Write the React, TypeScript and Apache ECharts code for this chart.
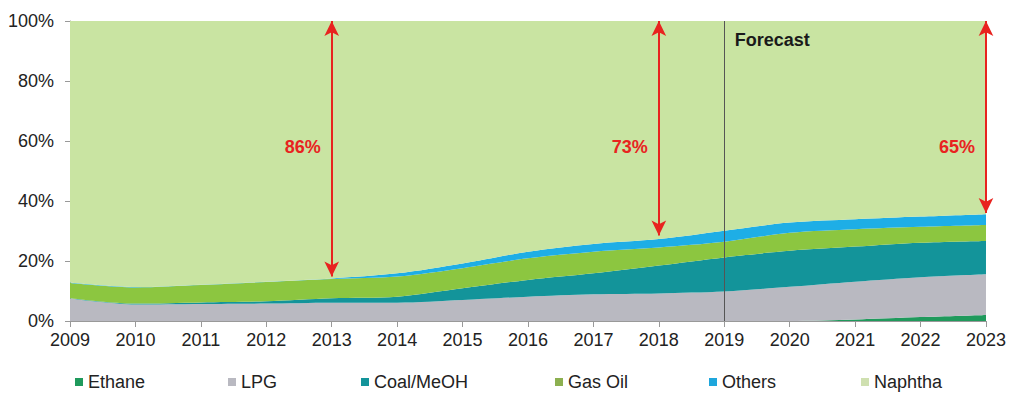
import React, { useEffect, useRef } from "react";
import * as echarts from "echarts";

const years = ["2009","2010","2011","2012","2013","2014","2015","2016","2017","2018","2019","2020","2021","2022","2023"];
const ethane = [0,0,0,0,0,0,0,0,0,0,0,0,0.5,1.3,2];
const lpg = [7.5,5.5,5.7,5.8,6.1,6.1,7,8.1,8.9,9.2,9.8,11.4,12.6,13.3,13.6];
const coal = [0.1,0.3,0.5,0.8,1.5,2,3.9,5.6,7,9.3,11.4,12,11.7,11.5,11.1];
const gasOil = [5.1,5.4,5.8,6.4,6.4,6.7,6.7,7.2,7.2,6,5.2,6,5.8,5.3,5.3];
const others = [0.1,0.1,0.1,0.1,0.2,1.1,1.6,2.2,2.6,2.8,3.7,3.4,3.3,3.4,3.6];
const naphtha = [87.2,88.7,87.9,86.9,85.8,84.1,80.8,76.9,74.3,72.7,69.9,67.2,66.1,65.2,64.4];

const yTicks = ["0%","20%","40%","60%","80%","100%"];
const arrowYears = ["2013","2018","2023"];
const arrowEnds = [14.8, 28.5, 36];
const arrowLabels = ["86%","73%","65%"];
const forecastYear = "2019";

const seriesNames = ["Ethane","LPG","Coal/MeOH","Gas Oil","Others","Naphtha"];
const seriesData = [ethane, lpg, coal, gasOil, others, naphtha];
const colors = ["#1f9a5c","#b9b9c1","#13949a","#8cc640","#1eaee6","#c9e4a2"];
const legendColors = ["#1f9a5c","#b9b9c1","#13949a","#8cb050","#1ea6dc","#cfe0b0"];
const legendLefts = [75, 228, 361, 555, 709, 861];

const FONT = "'Liberation Sans', Arial, sans-serif";

export default function App() {
  const ref = useRef<HTMLDivElement>(null);
  useEffect(() => {
    if (!ref.current) return;
    const chart = echarts.init(ref.current, null, { renderer: "svg" });
    const stacked = seriesNames.map((name, i) => ({
      name,
      type: "line",
      stack: "total",
      data: seriesData[i],
      symbol: "none",
      smooth: 0.3,
      lineStyle: { width: 0 },
      areaStyle: { color: colors[i], opacity: 1 },
      itemStyle: { color: legendColors[i] },
      z: 2,
    }));
    const redLine = { color: "#e8231f", width: 2, type: "solid" };
    chart.setOption({
      animation: false,
      textStyle: { fontFamily: FONT },
      grid: { left: 70, right: 23, top: 21, bottom: 73, containLabel: false },
      xAxis: {
        type: "category",
        data: years,
        boundaryGap: false,
        axisLine: { lineStyle: { color: "#999", width: 1 } },
        axisTick: { show: true, length: 6, lineStyle: { color: "#999" }, alignWithLabel: true },
        axisLabel: { color: "#222", fontSize: 18, margin: 10, fontFamily: FONT },
      },
      yAxis: {
        type: "value",
        min: 0,
        max: 100,
        interval: 20,
        axisLine: { show: true, lineStyle: { color: "#999" } },
        axisTick: { show: true, length: 5, lineStyle: { color: "#999" } },
        splitLine: { show: false },
        axisLabel: {
          color: "#222",
          fontSize: 18,
          margin: 16,
          fontFamily: FONT,
          formatter: (v: number) => yTicks[Math.round(v / 20)],
        },
      },
      legend: seriesNames.map((n, i) => ({
        left: legendLefts[i],
        top: 373,
        padding: 0,
        itemWidth: 8,
        itemHeight: 8,
        itemGap: 0,
        icon: "rect",
        textStyle: { color: "#222", fontSize: 18, fontFamily: FONT },
        data: [n],
      })),
      series: [
        ...stacked,
        {
          name: "annotations",
          type: "line",
          data: years.map(() => null),
          symbol: "none",
          z: 10,
          silent: true,
          markLine: {
            silent: true,
            animation: false,
            data: [
              ...arrowYears.map((y, i) => [
                { coord: [y, 100], symbol: "arrow", symbolSize: [11, 15], lineStyle: redLine, label: { show: false } },
                { coord: [y, arrowEnds[i]], symbol: "arrow", symbolSize: [11, 15] },
              ]),
              [
                { coord: [forecastYear, 100], symbol: "none", lineStyle: { color: "#555", width: 1, type: "solid" }, label: { show: false } },
                { coord: [forecastYear, 0], symbol: "none" },
              ],
            ],
          },
          markPoint: {
            silent: true,
            symbol: "circle",
            symbolSize: 0,
            data: [
              ...arrowYears.map((y, i) => ({
                coord: [y, 58],
                label: {
                  show: true,
                  formatter: arrowLabels[i],
                  color: "#e8231f",
                  fontWeight: "bold",
                  fontSize: 18,
                  fontFamily: FONT,
                  offset: [-29, 0],
                },
              })),
              {
                coord: [forecastYear, 93.7],
                label: {
                  show: true,
                  formatter: "Forecast",
                  color: "#1a1a1a",
                  fontWeight: "bold",
                  fontSize: 18,
                  fontFamily: FONT,
                  offset: [48, 0],
                },
              },
            ],
          },
        },
      ],
    });
    return () => chart.dispose();
  }, []);
  return <div ref={ref} style={{ width: 1009, height: 394, position: "absolute", left: 0, top: 0 }} />;
}
